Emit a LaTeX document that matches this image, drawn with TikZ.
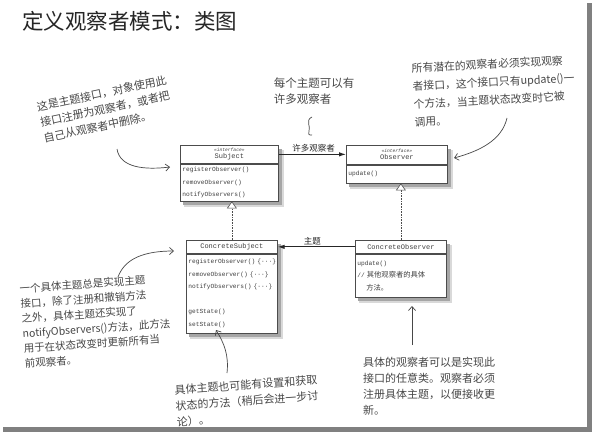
\documentclass[tikz,border=0pt]{standalone}
\usepackage{fontspec}
\setmainfont{Liberation Serif}
\setmonofont{Liberation Mono}
\newfontfamily\cjk{Noto Sans CJK SC}
\usetikzlibrary{arrows.meta,backgrounds,calc}
\newcommand\stereotxt[1]{{\ttfamily\itshape\fontsize{4.6}{6}\selectfont #1}}
\tikzset{
  note/.style={font=\cjk\fontsize{11}{16}\selectfont, text=black!72, align=left, inner sep=0pt},
  umlhead/.style={draw=black!70, fill=white, line width=0.7pt, inner sep=0pt, align=center, anchor=north west, text=black!75, font=\ttfamily\fontsize{7}{8.5}\selectfont},
  umlbody/.style={draw=black!70, fill=white, line width=0.7pt, inner xsep=2pt, inner ysep=0pt, align=left, anchor=north west, font=\ttfamily\fontsize{6.2}{12.5}\selectfont, text=black!75},
  hand/.style={black!72, line width=0.7pt},
  handarrow/.style={hand, -{Straight Barb[length=4pt,width=7pt]}},
  assoc/.style={black!85, line width=1pt, -{Latex[length=7pt,width=4.5pt]}},
  realize/.style={black!70, line width=0.6pt, densely dotted, -{Triangle[open, fill=white, length=7pt, width=10pt]}},
  lbl/.style={font=\cjk\fontsize{8.5}{9}\selectfont, text=black!85, inner sep=1.5pt},
}
\begin{document}
\begin{tikzpicture}[x=1pt,y=-1pt]
\path[use as bounding box] (0,0) rectangle (593,439);
% title
\node[font=\cjk\fontsize{21.5}{22}\selectfont, anchor=west, text=black!85, inner sep=0pt] (title) at (22,21) {定义观察者模式：类图};

% Subject interface
\node[umlhead, minimum width=98pt, minimum height=18pt] (subjH) at (180,145) {\stereotxt{«interface»}\\[-1.5pt]Subject};
\node[umlbody, minimum width=98pt, text width=94pt, minimum height=37pt] (subjB) at (subjH.south west) {registerObserver()\\removeObserver()\\notifyObservers()};

% Observer interface
\node[umlhead, minimum width=101pt, minimum height=19pt] (obsH) at (346,145) {\stereotxt{«interface»}\\[-1.5pt]Observer};
\node[umlbody, minimum width=101pt, text width=97pt, minimum height=18pt] (obsB) at (obsH.south west) {update()};

% ConcreteSubject
\node[umlhead, minimum width=91pt, minimum height=13pt] (csH) at (186,240) {ConcreteSubject};
\node[umlbody, minimum width=91pt, text width=87pt, minimum height=79pt] (csB) at (csH.south west) {\mbox{registerObserver()~\{···\}}\\\mbox{removeObserver()~\{···\}}\\\mbox{notifyObservers()~\{···\}}\\[12.5pt]getState()\\setState()};

% ConcreteObserver
\node[umlhead, minimum width=91pt, minimum height=13pt] (coH) at (355,240) {ConcreteObserver};
\node[umlbody, minimum width=91pt, text width=87pt, minimum height=43pt] (coB) at (coH.south west) {update()\\// {\cjk\fontsize{7.3}{12.5}\selectfont 其他观察者的具体}\\\hspace*{9pt}{\cjk\fontsize{7.3}{12.5}\selectfont 方法。}};

% page and shadows
\begin{scope}[on background layer]
  \fill[white] (0,0) rectangle (593,439);
  \fill[black!50] (3,427) rectangle (592,432);
  \fill[black!50] (587,3) rectangle (592,432);
  \foreach \a/\b in {subjH/subjB, obsH/obsB, csH/csB, coH/coB} {
    \fill[black!15] ($(\a.north west)+(4,5)$) rectangle ($(\b.south east)+(5.5,5.5)$);
    \fill[black!35] ($(\a.north west)+(3,3.5)$) rectangle ($(\b.south east)+(3.5,3.5)$);
  }
\end{scope}

% realization
\draw[realize] (csH.north) -- (csH.north |- subjB.south);
\draw[realize] (coH.north) -- (coH.north |- obsB.south);

% associations
\draw[assoc] (subjH.east) -- (subjH.east -| obsH.west) node[lbl, pos=0.52, above] (lblMany) {许多观察者};
\draw[assoc] (coH.west) -- (coH.west -| csH.east) node[lbl, pos=0.55, above] (lblSubj) {主题};

% notes
\node[note, rotate=12] (nSubj) at (105,109) {这是主题接口，对象使用此\\接口注册为观察者，或者把\\自己从观察者中删除。};
\coordinate (nSubjA) at (117,149);
\coordinate (nSubjB) at (170,167);
\draw[handarrow] (nSubjA) .. controls (120,168) and (145,170) .. (nSubjB);

\node[note, font=\cjk\fontsize{11.5}{16}\selectfont] (nMany) at (314,91) {每个主题可以有\\许多观察者};
\coordinate (sqA) at (312,117);
\coordinate (sqB) at (312,135);
\draw[hand] (sqA) .. controls (305,120) and (311,127) .. (309,131) .. controls (308.5,135) .. (sqB);

\node[note, font=\cjk\fontsize{10.8}{18}\selectfont, rotate=3] (nObs) at (494,91) {所有潜在的观察者必须实现观察\\者接口，这个接口只有update()一\\个方法，当主题状态改变时它被\\调用。};
\coordinate (nObsA) at (507,118);
\coordinate (nObsB) at (454,158);
\draw[handarrow] (nObsA) .. controls (502,140) and (480,151) .. (nObsB);

\node[note, font=\cjk\fontsize{10.5}{15}\selectfont, rotate=4] (nCS) at (96,321) {一个具体主题总是实现主题\\接口，除了注册和撤销方法\\之外，具体主题还实现了\\notifyObservers()方法，此方法\\用于在状态改变时更新所有当\\前观察者。};
\coordinate (nCSA) at (118,277);
\coordinate (nCSB) at (174,251);
\draw[handarrow] (nCSA) .. controls (125,258) and (145,251) .. (nCSB);

\node[note, rotate=4] (nState) at (247,401) {具体主题也可能有设置和获取\\状态的方法（稍后会进一步讨\\论）。};
\coordinate (nStateA) at (227,373);
\coordinate (nStateB) at (216,330);
\draw[handarrow] (nStateA) .. controls (229,355) and (224,343) .. (nStateB);

\node[note] (nCO) at (429,386) {具体的观察者可以是实现此\\接口的任意类。观察者必须\\注册具体主题，以便接收更\\新。};
\coordinate (nCOA) at (412,345);
\coordinate (nCOB) at (412,306);
\draw[handarrow] (nCOA) -- (nCOB);
\end{tikzpicture}
\end{document}
